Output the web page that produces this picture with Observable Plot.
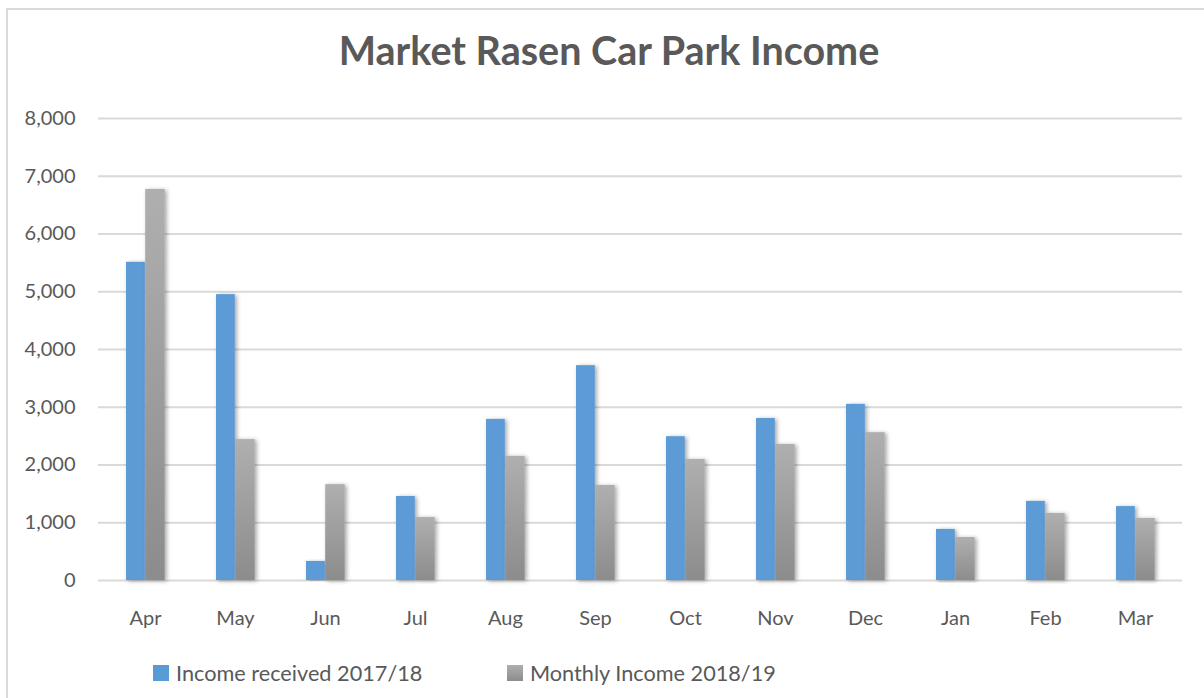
<!DOCTYPE html>
<html>
<head>
<meta charset="utf-8">
<script src="https://cdn.jsdelivr.net/npm/d3@7"></script>
<script src="https://cdn.jsdelivr.net/npm/@observablehq/plot@0.6"></script>
<style>
  html, body { margin: 0; padding: 0; background: #fff; }
  #chart { position: relative; width: 1204px; height: 698px; overflow: hidden; font-family: Lato, "Open Sans", sans-serif; }
  #frame { position: absolute; left: 6px; top: 8px; width: 1300px; height: 800px; border: 2px solid #d9d9d9; box-sizing: border-box; }
  #title { position: absolute; left: 0; width: 1218px; top: 26px; text-align: center; font-size: 39.5px; font-weight: 700; color: #595959; }
  #plot { position: absolute; left: 0; top: 100px; }
  #legend { position: absolute; top: 660px; left: 153px; font-size: 21.7px; color: #595959; }
  .item { position: absolute; white-space: nowrap; display: flex; align-items: center; }
  .sw { width: 16px; height: 16px; margin-right: 7px; }
</style>
</head>
<body>
<div id="chart">
  <div id="frame"></div>
  <div id="title">Market Rasen Car Park Income</div>
  <div id="plot"></div>
  <div id="legend"></div>
</div>
<script>
const months = ["Apr", "May", "Jun", "Jul", "Aug", "Sep", "Oct", "Nov", "Dec", "Jan", "Feb", "Mar"];
const income2017 = [5510, 4950, 330, 1455, 2790, 3720, 2490, 2805, 3050, 885, 1370, 1280];
const income2018 = [6770, 2440, 1660, 1090, 2150, 1645, 2095, 2355, 2560, 745, 1160, 1075];
const seriesNames = ["Income received 2017/18", "Monthly Income 2018/19"];
const yTicks = [0, 1000, 2000, 3000, 4000, 5000, 6000, 7000, 8000];

const rows2017 = months.map((m, i) => ({month: m, value: income2017[i], series: seriesNames[0]}));
const rows2018 = months.map((m, i) => ({month: m, value: income2018[i], series: seriesNames[1]}));

const blue = "#5B9BD5";
const grayFill = "url(#grayGrad)";

const chart = Plot.plot({
  width: 1204,
  height: 540,
  marginTop: 18,
  marginBottom: 60,
  marginLeft: 98,
  marginRight: 22,
  style: {fontFamily: "Lato, 'Open Sans', sans-serif", fontSize: "20px", color: "#595959", background: "transparent"},
  x: {domain: months, padding: 0, label: null, tickSize: 0, tickPadding: 30},
  y: {domain: [0, 8000], ticks: yTicks, label: null, tickSize: 0, tickPadding: 23, tickFormat: d3.format(",")},
  marks: [
    Plot.ruleY(yTicks, {stroke: "#d9d9d9", strokeWidth: 2}),
    Plot.barY(rows2017, {x: "month", y: "value", fill: blue, insetLeft: 26, insetRight: 45.2}),
    Plot.barY(rows2018, {x: "month", y: "value", fill: grayFill, insetLeft: 45.2, insetRight: 25.3})
  ]
});

// gradient + shadow definitions
const svg = d3.select(chart);
const defs = svg.insert("defs", ":first-child");
const g = defs.append("linearGradient").attr("id", "grayGrad").attr("x1", 0).attr("y1", 0).attr("x2", 0).attr("y2", 1);
g.append("stop").attr("offset", "0%").attr("stop-color", "#afafaf");
g.append("stop").attr("offset", "100%").attr("stop-color", "#8c8c8c");
const f = defs.append("filter").attr("id", "shadow").attr("x", "-20%").attr("y", "-5%").attr("width", "160%").attr("height", "110%");
f.append("feDropShadow").attr("dx", 2).attr("dy", 1).attr("stdDeviation", 2).attr("flood-color", "#000").attr("flood-opacity", 0.35);
svg.selectAll("g[aria-label='bar'] rect").attr("filter", "url(#shadow)");
svg.selectAll("g[aria-label='y-axis tick label'] text, g[aria-label='x-axis tick label'] text").attr("fill", "#595959");

document.getElementById("plot").appendChild(chart);

// legend
const legend = d3.select("#legend");
const lefts = [0, 354];
const fills = [blue, "linear-gradient(#afafaf, #8c8c8c)"];
seriesNames.forEach((name, i) => {
  const it = legend.append("div").attr("class", "item").style("left", lefts[i] + "px");
  it.append("div").attr("class", "sw").style("background", fills[i]);
  it.append("span").text(name);
});
</script>
</body>
</html>
